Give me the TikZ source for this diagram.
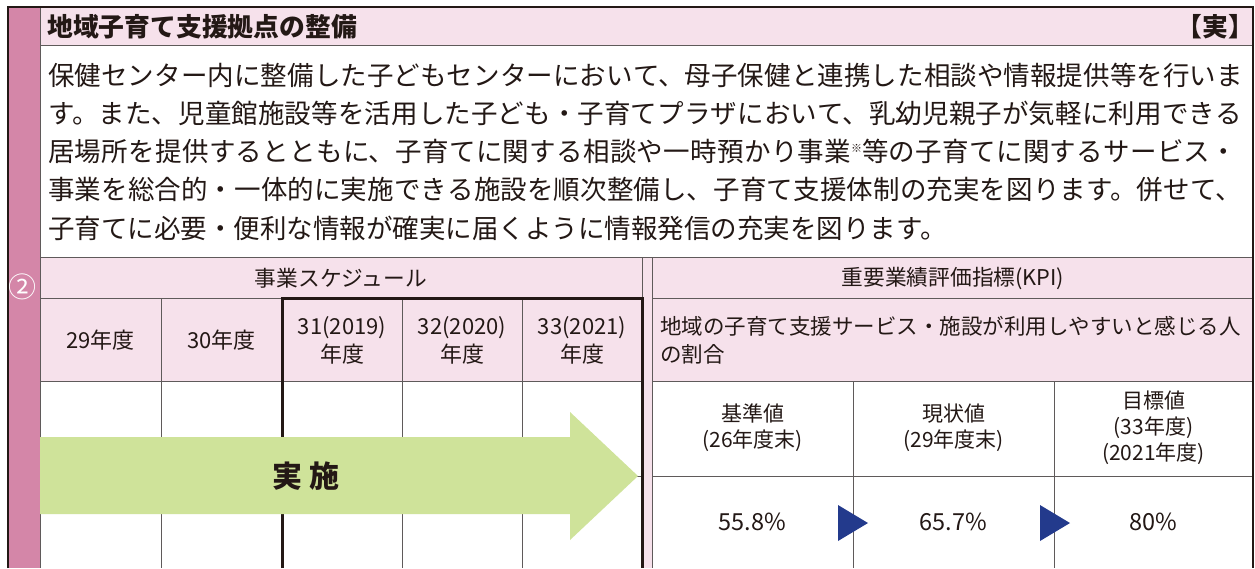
\documentclass[tikz,border=0pt]{standalone}
\usepackage{fontspec}
\setmainfont{Noto Sans CJK JP}
\usetikzlibrary{positioning}
\XeTeXlinebreaklocale "ja"
\XeTeXlinebreakskip=0pt plus 2pt
\definecolor{framedark}{RGB}{35,24,21}
\definecolor{rulegray}{RGB}{95,90,90}
\definecolor{pinkband}{RGB}{246,225,235}
\definecolor{pinkstripe}{RGB}{212,134,168}
\definecolor{arrowgreen}{RGB}{207,227,154}
\definecolor{navy}{RGB}{35,58,140}
\definecolor{textdark}{RGB}{35,24,21}

\begin{document}
\begin{tikzpicture}[x=1pt, y=-1pt,
    % Line styles
    thinline/.style={draw=rulegray, line width=0.9pt},
    frameline/.style={draw=framedark, line width=1.8pt},
    thickline/.style={draw=framedark, line width=3pt},
    % Text styles
    title/.style={font=\bfseries\fontsize{25.8}{30}\selectfont, text=textdark, inner sep=0pt},
    para/.style={font=\fontsize{26.5}{38.3}\selectfont, text width=1197pt, inner sep=0pt, text=textdark},
    head/.style={font=\fontsize{21.7}{25}\selectfont, text=textdark, inner sep=0pt},
    cell/.style={font=\fontsize{21}{26}\selectfont, align=center, text=textdark, inner sep=0pt},
    value/.style={font=\fontsize{23.5}{26}\selectfont, text=textdark, inner sep=0pt},
    impl/.style={font=\bfseries\fontsize{30}{30}\selectfont, text=textdark, inner sep=0pt},
    marker/.style={fill=navy}
]
\useasboundingbox (0,0) rectangle (1255,568);

% Background fills
\fill[white] (0,0) rectangle (1255,568);
\fill[pinkband] (40,7) rectangle (1253,45);
\fill[pinkstripe] (8,7) rectangle (40,568);
\fill[pinkband] (40,257) rectangle (642,381);
\fill[pinkband] (642,257) rectangle (652,568);
\fill[pinkband] (652,257) rectangle (1253,381);

% Table rules
\draw[thinline] (40,45) -- (1253,45);
\draw[thinline] (40,257) -- (1253,257);
\draw[thinline] (40,298) -- (282,298);
\draw[thinline] (652,298) -- (1253,298);
\draw[thinline] (40,381) -- (642,381);
\draw[thinline] (652,381) -- (1253,381);
\draw[thinline] (40,476) -- (642,476);
\draw[thinline] (652,476) -- (1253,476);
\draw[thinline] (161,298) -- (161,568);
\draw[thinline] (402,298) -- (402,568);
\draw[thinline] (522,298) -- (522,568);
\draw[thinline] (642,257) -- (642,298);
\draw[thinline] (652,257) -- (652,568);
\draw[thinline] (853,381) -- (853,568);
\draw[thinline] (1054,381) -- (1054,568);
\draw[thinline] (40,7) -- (40,568);

% Frame for 31-33
\draw[thickline] (282,568) -- (282,298) -- (642,298) -- (642,568);

% Outer frame
\draw[frameline] (8,568) -- (8,7) -- (1253,7) -- (1253,568);

% Implementation arrow
\fill[arrowgreen] (40,437) -- (570,437) -- (570,412) -- (638,476)
    -- (570,540) -- (570,514) -- (40,514) -- cycle;

% Title row
\node[title, anchor=west] (title) at (47,27) {地域子育て支援拠点の整備};
\node[title, anchor=east] (mark) at (1254.5,27) {【実】};
\node[font=\fontsize{28}{30}\selectfont, text=white, inner sep=0pt] (num) at (23,287) {②};

% Description
\node[para, anchor=base west] (intro) at (48,85) {%
保健センター内に整備した子どもセンターにおいて、母子保健と連携した相談や情報提供等を行いま\linebreak%
す。また、児童館施設等を活用した子ども・子育てプラザにおいて、乳幼児親子が気軽に利用できる\linebreak%
居場所を提供するとともに、子育てに関する相談や一時預かり事業\raisebox{9pt}{\fontsize{11}{11}\selectfont ※}等の子育てに関するサービス・\linebreak%
事業を総合的・一体的に実施できる施設を順次整備し、子育て支援体制の充実を図ります。併せて、\linebreak%
子育てに必要・便利な情報が確実に届くように情報発信の充実を図ります。};

% Schedule
\node[head] (schedhead) at (341,278) {事業スケジュール};
\node[cell, font=\fontsize{22}{26}\selectfont] (y29) at (100.5,340) {29年度};
\node[cell, font=\fontsize{22}{26}\selectfont] (y30) at (221.5,340) {30年度};
\node[cell, font=\fontsize{22}{28}\selectfont] (y31) at (342,340) {31(2019)\\年度};
\node[cell, font=\fontsize{22}{28}\selectfont] (y32) at (462,340) {32(2020)\\年度};
\node[cell, font=\fontsize{22}{28}\selectfont] (y33) at (582,340) {33(2021)\\年度};
\node[impl] (implement) at (306,476) {実\kern8pt施};

% KPI
\node[head] (kpihead) at (953,278) {重要業績評価指標(KPI)};
\node[cell, font=\fontsize{21.5}{28}\selectfont, align=left, text width=595pt, anchor=west] (kpiname) at (660,340)
    {地域の子育て支援サービス・施設が利用しやすいと感じる人\\の割合};
\node[cell] (basehead) at (752.5,428) {基準値\\(26年度末)};
\node[cell] (nowhead) at (953.5,428) {現状値\\(29年度末)};
\node[cell] (goalhead) at (1153.5,428) {目標値\\(33年度)\\(2021年度)};
\node[value] (baseval) at (752.5,522) {55.8\%};
\node[value] (nowval) at (953.5,522) {65.7\%};
\node[value] (goalval) at (1153.5,522) {80\%};

% Progress markers
\fill[marker] (838,505) -- (868,523) -- (838,541) -- cycle;
\fill[marker] (1040,505) -- (1070,523) -- (1040,541) -- cycle;

\end{tikzpicture}
\end{document}
